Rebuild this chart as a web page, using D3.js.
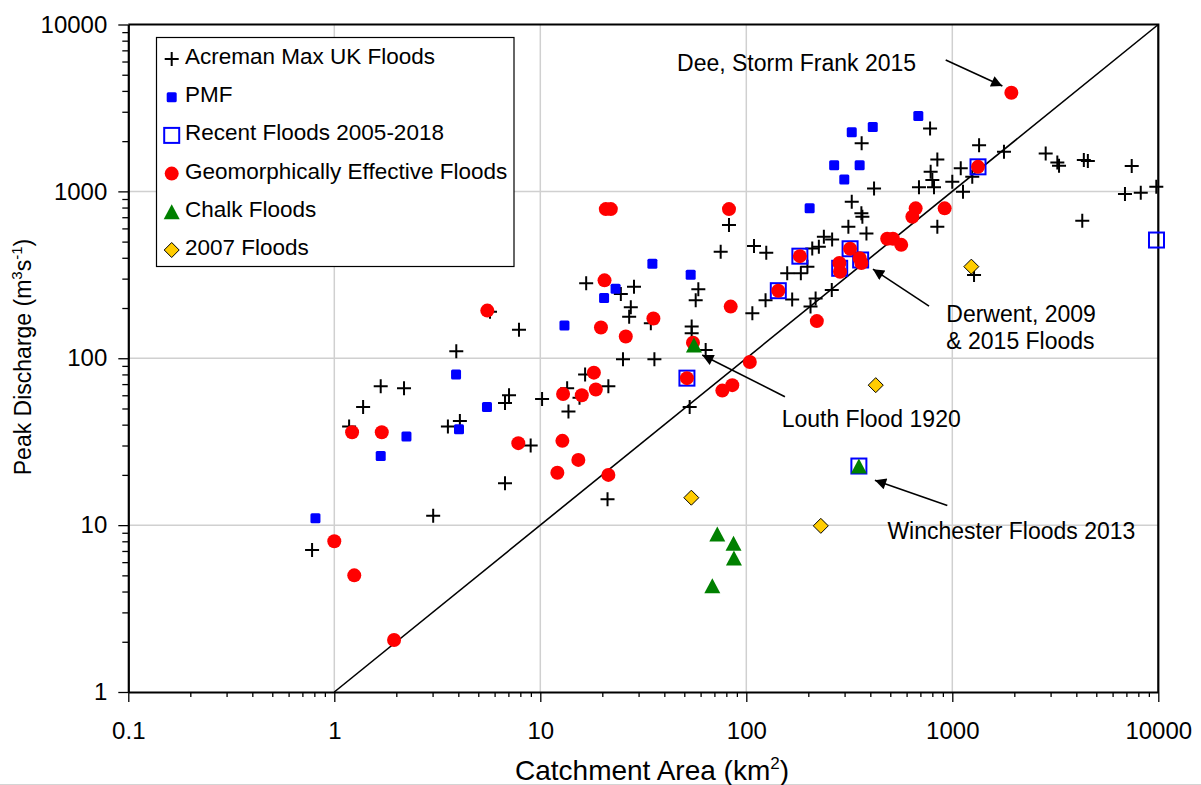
<!DOCTYPE html>
<html>
<head>
<meta charset="utf-8">
<script src="https://cdn.jsdelivr.net/npm/d3@7"></script>
<style>
  html, body { margin: 0; padding: 0; background: #fff; }
  svg { display: block; font-family: "Liberation Sans", Arial, sans-serif; }
</style>
</head>
<body>
<svg id="chart" width="1201" height="785"></svg>
<script>
// ---- Data: catchment area (km2) and peak discharge (m3/s) per series ----
const acremanArea = [0.78, 1.18, 1.38, 1.68, 2.18, 3.02, 3.56, 4.07, 3.91, 7.88, 7.05, 6.74, 6.74, 10.2, 8.98, 5.7,
  16.7, 28.5, 24.6, 27.5, 27.0, 34.4, 58.5, 56.8, 54.3, 54.3, 63.5, 25.2, 35.8, 16.5, 21.4, 13.5, 13.7, 21.2, 53.1, 15.5,
  107, 124, 167, 205, 217, 260, 82.4, 75.1, 109, 125, 158, 184, 198, 209, 225, 238, 261, 313, 325, 363,
  780, 1349, 1782, 846, 785, 800, 689, 815, 417, 1099, 1000, 1127, 1250, 366, 362, 383, 846,
  2840, 3235, 3297, 4350, 4550, 7430, 6890, 8220, 9780, 4275, 1275];
const acremanPeak = [7.1, 39, 51, 68, 66, 11.4, 39, 42, 110, 148, 60, 54, 17.8, 57, 30, 190,
  281, 268, 243, 202, 177, 162, 259, 223, 155, 141, 112, 98.5, 98.5, 80, 68, 66, 48, 14.3, 51, 58,
  186, 223, 225, 204, 228, 256, 628, 434, 470, 429, 323, 323, 353, 455, 466, 534, 515, 613, 866, 1940,
  2384, 1893, 1727, 1555, 1310, 1169, 1057, 1057, 1042, 1374, 1142, 995, 1224, 704, 740, 560, 613,
  1689, 1492, 1423, 1540, 1520, 1418, 964, 981, 1066, 666, 315];

const pmfArea = [0.81, 1.68, 2.24, 3.90, 4.03, 5.51, 13.1, 20.4, 23.2, 35.0, 53.7, 203, 267, 299, 355, 325, 411, 684];
const pmfPeak = [11, 26, 34, 80, 37.5, 51, 157, 230, 261, 368, 316, 791, 1432, 1180, 1432, 2258, 2428, 2825];

const recentArea = [51.5, 143, 182, 284, 319, 359, 1333, 9800, 352];
const recentPeak = [76, 254, 409, 346, 453, 388, 1403, 511, 22.6];

const geoArea = [1.0, 1.25, 1.95, 1.22, 1.70, 5.53, 7.82, 12.8, 12.1, 12.9, 15.3, 15.9, 18.6, 18.2, 19.7, 26.0, 35.4,
  20.5, 20.8, 22.0, 82.4, 84, 51.5, 76.5, 85.5, 104, 143, 182, 220, 283, 285, 319, 355, 362,
  483, 515, 565, 664, 640, 918, 1333, 1935, 21.4, 55.1];
const geoPeak = [8.0, 5.0, 2.05, 36, 36, 193, 31, 32, 20.6, 61, 24.6, 60, 65, 82, 153, 135, 173,
  293, 783, 783, 783, 204, 76, 64, 69, 95, 254, 409, 167, 372, 330, 453, 398, 372,
  520, 520, 478, 791, 704, 791, 1403, 3900, 20, 124];

const chalkArea = [55.7, 352, 72.3, 86.7, 87.1, 68.4];
const chalkPeak = [120, 22.6, 8.85, 7.8, 6.35, 4.33];

const floods2007Area = [54.1, 230, 425, 1237];
const floods2007Peak = [14.6, 9.9, 69, 354];

// 1:1 reference line (area = discharge)
const refLineArea = [1, 10000];
const refLinePeak = [1, 10000];

// Tick labels
const xTickValues = [0.1, 1, 10, 100, 1000, 10000];
const xTickLabels = ["0.1", "1", "10", "100", "1000", "10000"];
const yTickValues = [1, 10, 100, 1000, 10000];
const yTickLabels = ["1", "10", "100", "1000", "10000"];

const legendLabels = ["Acreman Max UK Floods", "PMF", "Recent Floods 2005-2018",
  "Geomorphically Effective Floods", "Chalk Floods", "2007 Floods"];

// Callouts: text anchor (area, peak), arrow start and arrow tip in data units
const noteLines = [["Dee, Storm Frank 2015"], ["Derwent, 2009", "& 2015 Floods"], ["Louth Flood 1920"], ["Winchester Floods 2013"]];
const noteTextArea = [46.1, 935, 148.5, 484];
const noteTextPeak = [5280, 165.5, 38.5, 8.22];
const noteFromArea = [929, 771, 154, 946];
const noteFromPeak = [6120, 205.5, 58.8, 13.1];
const noteToArea = [1750, 412, 61.1, 421];
const noteToPeak = [4275, 342, 104.5, 18.6];

// ---- Layout ----
const svg = d3.select("#chart");
const plot = { left: 128.3, right: 1158.3, top: 24.5, bottom: 692 };
const x = d3.scaleLog().domain([0.1, 10000]).range([plot.left, plot.right]);
const y = d3.scaleLog().domain([1, 10000]).range([plot.bottom, plot.top]);

svg.append("rect").attr("width", 1201).attr("height", 785).attr("fill", "#fff");
svg.append("line").attr("x1", 0).attr("x2", 1201).attr("y1", 784.5).attr("y2", 784.5)
  .attr("stroke", "#d4d4d4").attr("stroke-width", 1);

// minor ticks for each decade
function minorTicks(lo, hi) {
  const out = [];
  for (let d = lo; d < hi; d *= 10) for (let k = 2; k <= 9; k++) out.push(d * k);
  return out;
}

// gridlines at major decades
const grid = svg.append("g").attr("stroke", "#d0d0d0").attr("stroke-width", 1.5);
grid.selectAll("line.gx").data([1, 10, 100, 1000]).join("line")
  .attr("x1", d => x(d)).attr("x2", d => x(d)).attr("y1", plot.top).attr("y2", plot.bottom);
grid.selectAll("line.gy").data([10, 100, 1000]).join("line")
  .attr("y1", d => y(d)).attr("y2", d => y(d)).attr("x1", plot.left).attr("x2", plot.right);

// axes
const tickFont = "24px";
const xAxisG = svg.append("g").attr("transform", `translate(0,${plot.bottom})`);
xAxisG.call(d3.axisBottom(x).tickValues(minorTicks(0.1, 10000)).tickSize(5).tickFormat("").tickSizeOuter(0));
xAxisG.select(".domain").remove();
const xMajor = svg.append("g").attr("transform", `translate(0,${plot.bottom})`)
  .call(d3.axisBottom(x).tickValues(xTickValues).tickSize(10).tickSizeOuter(0)
    .tickFormat((d, i) => xTickLabels[i]).tickPadding(20));
xMajor.selectAll("text").attr("font-size", tickFont).attr("fill", "#000").attr("font-family", "Liberation Sans, Arial, sans-serif");
xMajor.select(".domain").attr("stroke-width", 2.2);

const yAxisG = svg.append("g").attr("transform", `translate(${plot.left},0)`);
yAxisG.call(d3.axisLeft(y).tickValues(minorTicks(1, 10000)).tickSize(6).tickFormat("").tickSizeOuter(0));
yAxisG.select(".domain").remove();
const yMajor = svg.append("g").attr("transform", `translate(${plot.left},0)`)
  .call(d3.axisLeft(y).tickValues(yTickValues).tickSize(10).tickSizeOuter(0)
    .tickFormat((d, i) => yTickLabels[i]).tickPadding(11));
yMajor.selectAll("text").attr("font-size", tickFont).attr("fill", "#000").attr("font-family", "Liberation Sans, Arial, sans-serif");
yMajor.select(".domain").attr("stroke-width", 2.2);
svg.selectAll(".tick line").attr("stroke", "#000").attr("stroke-width", 1.3);

// top and right frame
svg.append("path")
  .attr("d", `M${plot.left},${plot.top}H${plot.right}V${plot.bottom}`)
  .attr("fill", "none").attr("stroke", "#000").attr("stroke-width", 2.2);

// axis titles
const xTitle = svg.append("text").attr("x", 652).attr("y", 780).attr("text-anchor", "middle")
  .attr("font-size", "28px").attr("fill", "#000");
xTitle.append("tspan").text("Catchment Area (km");
xTitle.append("tspan").text("2").attr("font-size", "17px").attr("dy", -11);
xTitle.append("tspan").text(")").attr("dy", 11);

const yTitle = svg.append("text").attr("transform", "translate(31,357) rotate(-90)")
  .attr("text-anchor", "middle").attr("font-size", "23px").attr("fill", "#000");
yTitle.append("tspan").text("Peak Discharge (m");
yTitle.append("tspan").text("3").attr("font-size", "15px").attr("dy", -9);
yTitle.append("tspan").text("s").attr("dy", 9);
yTitle.append("tspan").text("-1").attr("font-size", "15px").attr("dy", -9);
yTitle.append("tspan").text(")").attr("dy", 9);

const marks = svg.append("g");

// 1:1 line
marks.append("line")
  .attr("x1", x(refLineArea[0])).attr("y1", y(refLinePeak[0]))
  .attr("x2", x(refLineArea[1])).attr("y2", y(refLinePeak[1]))
  .attr("stroke", "#000").attr("stroke-width", 1.6);

// marker painters
const sym = {
  cross: g => g.append("path").attr("d", "M-7,0H7M0,-7V7").attr("stroke", "#000").attr("stroke-width", 2).attr("fill", "none"),
  pmf: g => g.append("rect").attr("x", -5).attr("y", -5).attr("width", 10).attr("height", 10).attr("rx", 1.5).attr("fill", "#0000ff"),
  recent: g => g.append("rect").attr("x", -7.5).attr("y", -7.5).attr("width", 15).attr("height", 15).attr("fill", "none").attr("stroke", "#0000ff").attr("stroke-width", 2),
  geo: g => g.append("circle").attr("r", 7).attr("fill", "#ff0000"),
  chalk: g => g.append("path").attr("d", "M0,-7.5L8,7.5L-8,7.5Z").attr("fill", "#008000"),
  y2007: g => g.append("path").attr("d", "M0,-7.5L7.5,0L0,7.5L-7.5,0Z").attr("fill", "#ffcc00").attr("stroke", "#000").attr("stroke-width", 1)
};

function drawSeries(areas, peaks, painter) {
  const pts = areas.map((a, i) => ({ a, p: peaks[i] }));
  marks.append("g").selectAll("g").data(pts).join("g")
    .attr("transform", d => `translate(${x(d.a)},${y(d.p)})`)
    .each(function () { painter(d3.select(this)); });
}

drawSeries(acremanArea, acremanPeak, sym.cross);
drawSeries(pmfArea, pmfPeak, sym.pmf);
drawSeries(recentArea, recentPeak, sym.recent);
drawSeries(geoArea, geoPeak, sym.geo);
drawSeries(chalkArea, chalkPeak, sym.chalk);
drawSeries(floods2007Area, floods2007Peak, sym.y2007);

// callouts
svg.append("defs").append("marker").attr("id", "arrowHead")
  .attr("viewBox", "0 0 10 10").attr("refX", 10).attr("refY", 5)
  .attr("markerWidth", 9.5).attr("markerHeight", 7).attr("orient", "auto")
  .attr("markerUnits", "strokeWidth")
  .append("path").attr("d", "M0,0L10,5L0,10Z").attr("fill", "#000");

const notes = svg.append("g");
noteLines.forEach((lines, i) => {
  notes.append("line")
    .attr("x1", x(noteFromArea[i])).attr("y1", y(noteFromPeak[i]))
    .attr("x2", x(noteToArea[i])).attr("y2", y(noteToPeak[i]))
    .attr("stroke", "#000").attr("stroke-width", 1.6).attr("marker-end", "url(#arrowHead)");
  const t = notes.append("text").attr("font-size", "23px").attr("fill", "#000");
  lines.forEach((s, j) => {
    t.append("tspan").attr("x", x(noteTextArea[i])).attr("y", y(noteTextPeak[i]) + j * 27.5).text(s);
  });
});

// legend
const legend = svg.append("g");
legend.append("rect").attr("x", 156.5).attr("y", 37.5).attr("width", 357.5).attr("height", 229)
  .attr("fill", "#fff").attr("stroke", "#000").attr("stroke-width", 1.2);
const legendPainters = [sym.cross, sym.pmf, sym.recent, sym.geo, sym.chalk, sym.y2007];
legendLabels.forEach((label, i) => {
  const base = 64 + i * 38.2;
  const g = legend.append("g").attr("transform", `translate(171.7,${base - 5})`);
  legendPainters[i](g);
  legend.append("text").attr("x", 185).attr("y", base).attr("font-size", "22.5px").attr("fill", "#000").text(label);
});
</script>
</body>
</html>
